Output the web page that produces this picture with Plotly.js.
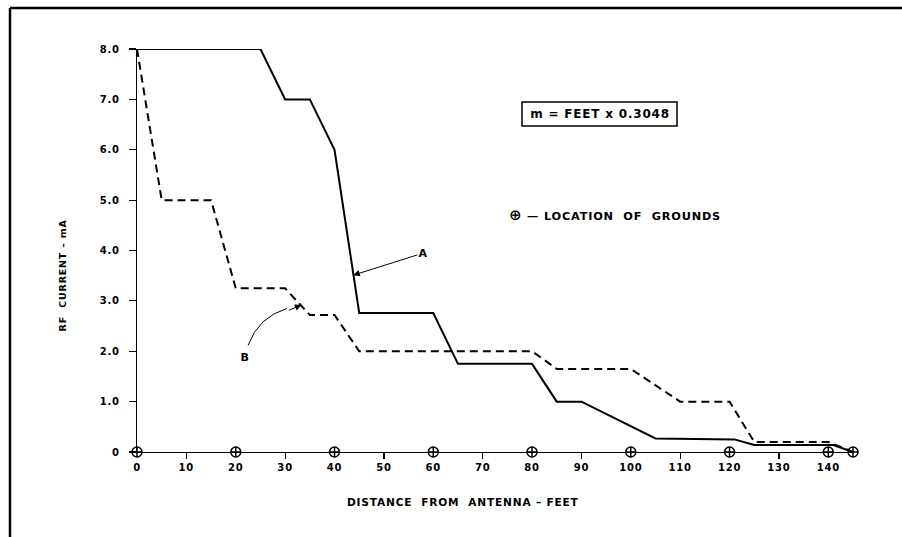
<!DOCTYPE html>
<html>
<head>
<meta charset="utf-8">
<script src="https://cdn.plot.ly/plotly-3.0.1.min.js"></script>
<style>
  html, body { margin: 0; padding: 0; background: #fff; overflow: hidden; }
  #chart { width: 902px; height: 537px; }
  #chart text { letter-spacing: 0.8px; }
</style>
</head>
<body>
<div id="chart"></div>
<script>
// ---- data ----
const xTickVals = [0, 10, 20, 30, 40, 50, 60, 70, 80, 90, 100, 110, 120, 130, 140];
const xMinorTicks = [10, 30, 50, 70, 90, 110, 130];
const yTickVals = [0, 1, 2, 3, 4, 5, 6, 7, 8];
const yTickText = ['0', '1.0', '2.0', '3.0', '4.0', '5.0', '6.0', '7.0', '8.0'];

const curveAFeet = [0, 25, 30, 35, 40, 45, 60, 65, 80, 85, 90, 105, 121, 125, 141, 145];
const curveAmA   = [8, 8, 7, 7, 6, 2.76, 2.76, 1.75, 1.75, 1.0, 1.0, 0.27, 0.25, 0.14, 0.14, 0];

const curveBFeet = [0, 5, 15, 20, 30, 35, 40, 45, 80, 85, 100, 110, 120, 125, 140, 145];
const curveBmA   = [8, 5, 5, 3.25, 3.25, 2.72, 2.72, 2.0, 2.0, 1.65, 1.65, 1.0, 1.0, 0.2, 0.2, 0];

const groundFeet = [0, 20, 40, 60, 80, 100, 120, 140, 145];
const groundmA   = [0, 0, 0, 0, 0, 0, 0, 0, 0];

const font = 'DejaVu Sans, Arial, sans-serif';
const txt = (size) => ({ family: font, size: size, color: '#000', weight: 'bold' });

const traces = [
  {
    x: curveAFeet, y: curveAmA, type: 'scatter', mode: 'lines',
    line: { color: '#000', width: 2 }, cliponaxis: false, showlegend: false, hoverinfo: 'skip'
  },
  {
    x: curveBFeet, y: curveBmA, type: 'scatter', mode: 'lines',
    line: { color: '#000', width: 2, dash: '8px,5px' }, cliponaxis: false, showlegend: false, hoverinfo: 'skip'
  },
  {
    x: groundFeet, y: groundmA, type: 'scatter', mode: 'markers', xaxis: 'x2',
    marker: { symbol: 'circle-cross-open', size: 10, color: '#000', line: { width: 1.5, color: '#000' } },
    cliponaxis: false, showlegend: false, hoverinfo: 'skip'
  }
];

// pixel helpers for paper placement of decoration (frame, titles)
const L = 137, R = 49, T = 49, B = 85, W = 902, H = 537;
const pw = W - L - R, ph = H - T - B;
const px = v => (v - L) / pw;
const py = v => (H - B - v) / ph;

const layout = {
  width: W, height: H,
  margin: { l: L, r: R, t: T, b: B, pad: 0 },
  paper_bgcolor: '#fff', plot_bgcolor: '#fff',
  showlegend: false,
  font: { family: font, color: '#000', size: 10 },
  xaxis: {
    range: [0, 145], showline: true, linecolor: '#000', linewidth: 1.2,
    tickvals: xTickVals, ticks: '', showgrid: false, zeroline: false,
    tickfont: txt(10), ticklabelstandoff: 6
  },
  xaxis2: {
    range: [0, 145], overlaying: 'x', anchor: 'y', side: 'bottom',
    tickvals: xMinorTicks, ticks: 'outside', ticklen: 6, tickwidth: 1.2, tickcolor: '#000',
    showticklabels: false, showgrid: false, zeroline: false, showline: false
  },
  yaxis: {
    range: [0, 8], showline: true, linecolor: '#000', linewidth: 1.2,
    tickvals: yTickVals, ticktext: yTickText, ticks: 'outside', ticklen: 7, tickwidth: 1.2, tickcolor: '#000',
    showgrid: false, zeroline: false,
    tickfont: txt(10), ticklabelstandoff: 7
  },
  shapes: [
    { type: 'line', xref: 'paper', yref: 'paper', x0: px(10), x1: px(910), y0: py(8), y1: py(8),
      line: { color: '#000', width: 2.5 } },
    { type: 'line', xref: 'paper', yref: 'paper', x0: px(10), x1: px(10), y0: py(8), y1: py(545),
      line: { color: '#000', width: 2.5 } },
    { type: 'rect', xref: 'paper', yref: 'paper', x0: px(522), x1: px(677), y0: py(102), y1: py(126),
      line: { color: '#000', width: 1.5 }, fillcolor: 'rgba(0,0,0,0)' },
    { type: 'path', xref: 'x', yref: 'y', path: 'M 22.5,2.12 Q 24.6,2.68 30.4,2.85',
      line: { color: '#000', width: 1 } }
  ],
  annotations: [
    { xref: 'paper', yref: 'paper', x: px(463), y: py(502), text: 'DISTANCE\u00a0\u00a0FROM\u00a0\u00a0ANTENNA\u00a0–\u00a0FEET',
      showarrow: false, font: txt(10.6), xanchor: 'center', yanchor: 'middle' },
    { xref: 'paper', yref: 'paper', x: px(62), y: py(275), text: 'RF\u00a0\u00a0CURRENT\u00a0–\u00a0mA', textangle: -90,
      showarrow: false, font: txt(9.5), xanchor: 'center', yanchor: 'middle' },
    { xref: 'paper', yref: 'paper', x: px(600), y: py(114), text: 'm = FEET x 0.3048',
      showarrow: false, font: txt(12), xanchor: 'center', yanchor: 'middle' },
    { xref: 'paper', yref: 'paper', x: px(517), y: py(215),
      text: '<span style="font-size:15px">⊕</span>\u00a0—\u00a0LOCATION\u00a0\u00a0OF\u00a0\u00a0GROUNDS',
      showarrow: false, font: txt(11.3), xanchor: 'left', yanchor: 'middle' },
    { xref: 'x', yref: 'y', x: 43.8, y: 3.51, axref: 'x', ayref: 'y', ax: 58.0, ay: 3.95,
      text: 'A', showarrow: true, arrowhead: 2, arrowsize: 1.3, arrowwidth: 1, arrowcolor: '#000',
      font: txt(11) },
    { xref: 'x', yref: 'y', x: 33.3, y: 2.92, ax: -14, ay: 6, text: '',
      showarrow: true, arrowhead: 2, arrowsize: 1.3, arrowwidth: 1, arrowcolor: '#000' },
    { xref: 'x', yref: 'y', x: 21.9, y: 1.87, text: 'B', showarrow: false, font: txt(11) }
  ]
};

Plotly.newPlot('chart', traces, layout, { staticPlot: true, displayModeBar: false });
</script>
</body>
</html>
